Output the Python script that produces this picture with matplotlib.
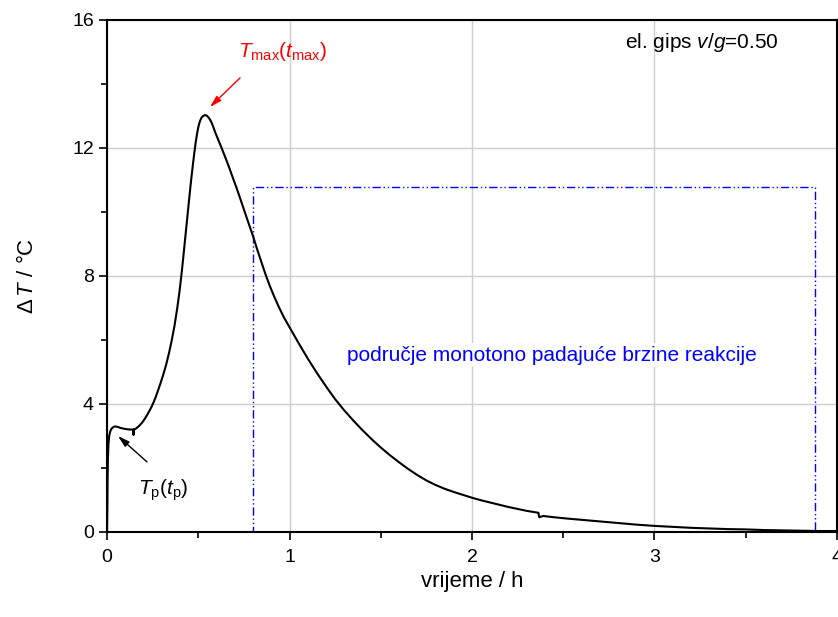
import matplotlib
matplotlib.use("Agg")
import matplotlib.pyplot as plt
from matplotlib.ticker import MultipleLocator

plt.rcParams['font.family'] = ['Liberation Sans', 'DejaVu Sans']
plt.rcParams['mathtext.fontset'] = 'custom'
plt.rcParams['mathtext.rm'] = 'Liberation Sans'
plt.rcParams['mathtext.it'] = 'Liberation Sans:italic'
plt.rcParams['mathtext.bf'] = 'Liberation Sans:bold'

# time (h) and temperature rise (°C)
time_h = [0.0, 0.002, 0.003, 0.005, 0.008, 0.012, 0.018, 0.025, 0.035, 0.045,
          0.06, 0.075, 0.09, 0.11, 0.13, 0.144, 0.145, 0.146, 0.155, 0.165,
          0.175, 0.19, 0.205, 0.217, 0.23, 0.243, 0.255, 0.267, 0.28, 0.295,
          0.31, 0.325, 0.34, 0.354, 0.37, 0.385, 0.398, 0.41, 0.42, 0.43,
          0.44, 0.45, 0.46, 0.47, 0.478, 0.486, 0.495, 0.503, 0.51, 0.518,
          0.527, 0.537, 0.547, 0.557, 0.566, 0.574, 0.583, 0.592, 0.61, 0.628,
          0.65, 0.67, 0.69, 0.71, 0.73, 0.75, 0.775, 0.80, 0.82, 0.845,
          0.868, 0.89, 0.915, 0.94, 0.97, 1.0, 1.05, 1.10, 1.15, 1.20,
          1.25, 1.30, 1.35, 1.40, 1.45, 1.50, 1.55, 1.60, 1.65, 1.70,
          1.75, 1.80, 1.85, 1.90, 1.95, 2.0, 2.05, 2.10, 2.15, 2.20,
          2.25, 2.30, 2.364, 2.368, 2.39, 2.45, 2.52, 2.60, 2.70, 2.80,
          2.90, 3.0, 3.1, 3.2, 3.3, 3.4, 3.5, 3.6, 3.7, 3.8,
          3.9, 4.0]
delta_T = [0.0, 0.8, 1.6, 2.3, 2.75, 3.0, 3.15, 3.23, 3.28, 3.30,
           3.28, 3.25, 3.23, 3.21, 3.20, 3.20, 3.03, 3.20, 3.22, 3.26,
           3.31, 3.40, 3.52, 3.63, 3.76, 3.90, 4.05, 4.22, 4.43, 4.68,
           4.95, 5.25, 5.60, 5.97, 6.45, 7.0, 7.55, 8.15, 8.7, 9.27,
           9.83, 10.4, 10.95, 11.45, 11.83, 12.18, 12.5, 12.72, 12.85, 12.95,
           13.0, 13.03, 13.01, 12.95, 12.87, 12.78, 12.65, 12.5, 12.25, 12.0,
           11.68, 11.38, 11.06, 10.75, 10.42, 10.08, 9.66, 9.25, 8.88, 8.45,
           8.06, 7.72, 7.37, 7.05, 6.70, 6.40, 5.90, 5.42, 4.97, 4.55,
           4.15, 3.80, 3.48, 3.18, 2.90, 2.64, 2.40, 2.18, 1.97, 1.78,
           1.61, 1.47, 1.35, 1.25, 1.16, 1.07, 0.99, 0.92, 0.85, 0.78,
           0.72, 0.66, 0.60, 0.46, 0.50, 0.46, 0.42, 0.38, 0.33, 0.28,
           0.23, 0.19, 0.16, 0.13, 0.11, 0.09, 0.08, 0.06, 0.05, 0.04,
           0.03, 0.03]

# region of monotonically decreasing reaction rate
region_x = [0.8, 3.88]
region_y = [0.0, 10.78]

fig = plt.figure(figsize=(8.38, 6.17), dpi=100)
ax = fig.add_axes([0.1277, 0.1378, 0.8711, 0.8298])

ax.plot(time_h, delta_T, color='black', lw=1.5, zorder=3)

rx0, rx1 = region_x
ry0, ry1 = region_y
ax.plot([rx0, rx1, rx1, rx0, rx0], [ry0, ry0, ry1, ry1, ry0],
        color='#0000ff', lw=1.0, linestyle=(0, (6, 2, 1, 2, 1, 2)), zorder=2)

ax.set_xlim(0, 4)
ax.set_ylim(0, 16)
ax.xaxis.set_major_locator(MultipleLocator(1))
ax.xaxis.set_minor_locator(MultipleLocator(0.5))
ax.yaxis.set_major_locator(MultipleLocator(4))
ax.yaxis.set_minor_locator(MultipleLocator(2))
ax.grid(True, which='major', color='#cccccc', lw=1.0, zorder=0)
ax.set_axisbelow(True)
ax.tick_params(which='major', direction='out', length=6, width=1.2,
               labelsize=14, colors='black')
ax.tick_params(axis='x', which='major', pad=6)
ax.tick_params(which='minor', direction='out', length=4, width=1.2)
for s in ax.spines.values():
    s.set_linewidth(1.5)
    s.set_color('black')

ax.set_xlabel('vrijeme / h', fontsize=16)
ax.xaxis.set_label_coords(0.5, -50 / 512)
ax.xaxis.label.set_verticalalignment('center')
ax.set_ylabel(r'$\Delta\,T$ / °C', fontsize=16)
ax.yaxis.set_label_coords(-80 / 730, 0.5)
ax.yaxis.label.set_verticalalignment('center')

ax.annotate('', xy=(0.564, 13.28), xytext=(0.729, 14.19),
            arrowprops=dict(arrowstyle='-|>,head_width=0.2,head_length=0.7',
                            color='red', lw=1.0, shrinkA=0, shrinkB=0))
ax.text(0.964, 15.0, r'$T_{\rm max}(t_{\rm max})$', color='red', fontsize=15,
        ha='center', va='center')
ax.annotate('', xy=(0.06, 3.0), xytext=(0.219, 2.19),
            arrowprops=dict(arrowstyle='-|>,head_width=0.2,head_length=0.7',
                            color='black', lw=1.0, shrinkA=0, shrinkB=0))
ax.text(0.307, 1.31, r'$T_{\rm p}(t_{\rm p})$', color='black', fontsize=15,
        ha='center', va='center')

ax.text(3.68, 15.3, r'el. gips $v/g$=0.50', fontsize=15, ha='right', va='center')
ax.text(2.44, 5.53, 'područje monotono padajuće brzine reakcije', color='#0000ff',
        fontsize=15, ha='center', va='center',
        bbox=dict(facecolor='white', edgecolor='none', pad=2))

fig.savefig('out.png', dpi=100)
